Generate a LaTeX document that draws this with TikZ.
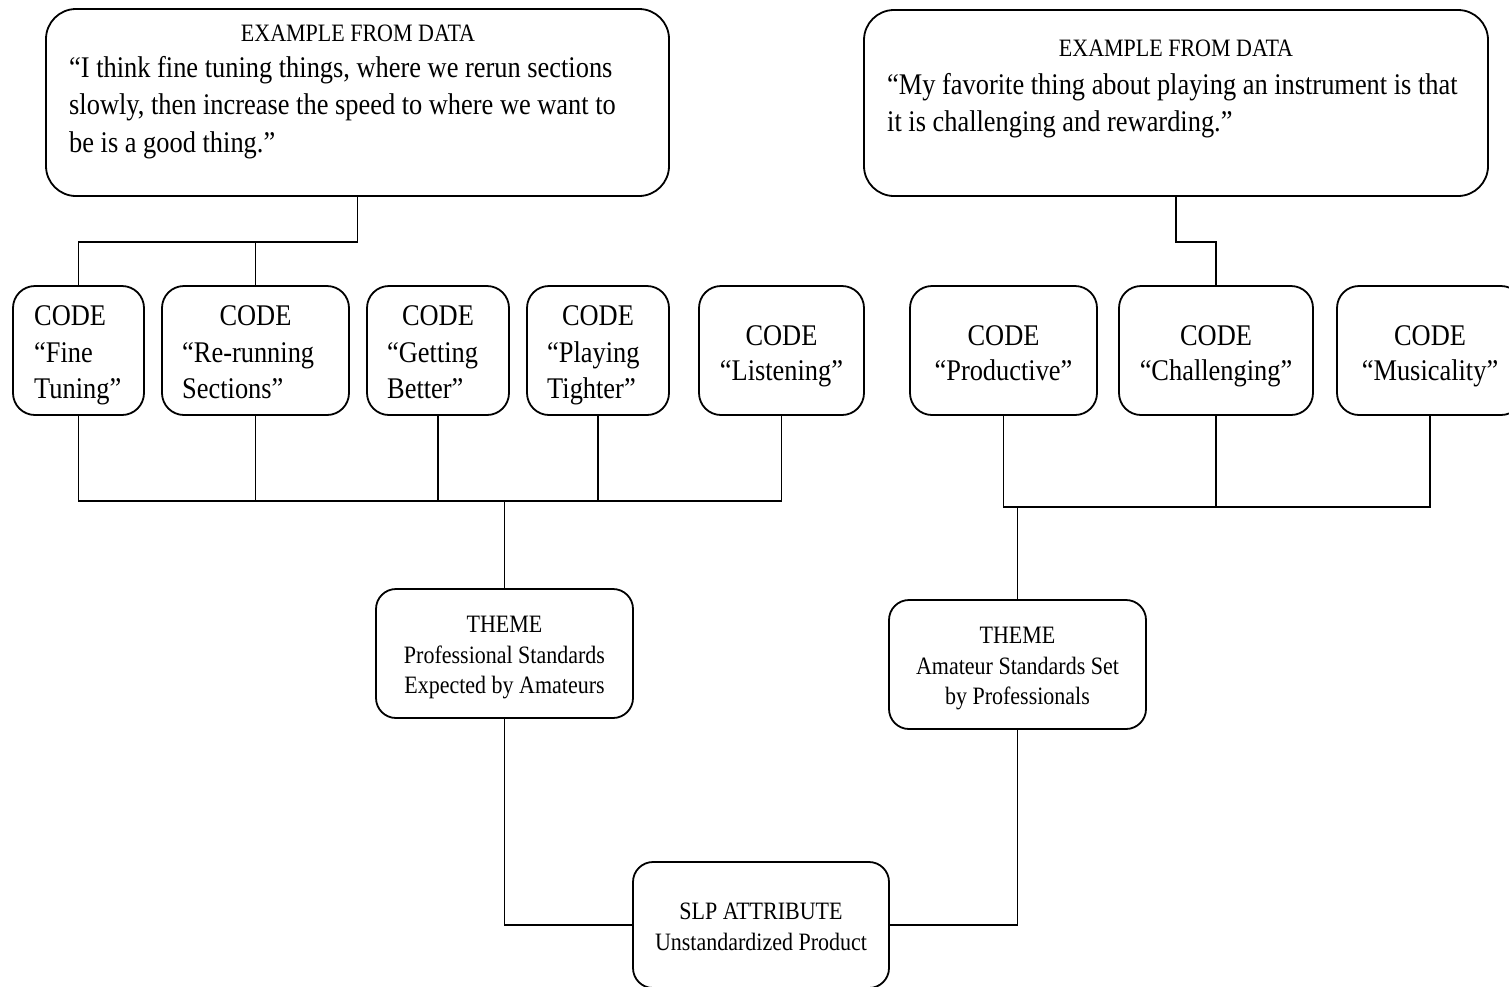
\documentclass[tikz,border=0pt]{standalone}
\usepackage{fontspec}
\setmainfont{Liberation Serif}[FakeStretch=0.88]
\begin{document}
\begin{tikzpicture}[x=1pt,y=-1pt,
  box/.style={draw, line width=1.8pt, inner sep=0pt, rounded corners=#1},
  box/.default=22pt,
  link/.style={line width=1.4pt},
  big/.style={font=\fontsize{30}{37}\selectfont, inner sep=0pt},
  small/.style={font=\fontsize{25}{31}\selectfont, inner sep=0pt}]
\useasboundingbox (0,0) rectangle (1509,986);
\fill[white] (0,0) rectangle (1509,986);
% boxes
\node[box=30pt, minimum width=623pt, minimum height=187pt] (tl) at (357.5,102.5) {};
\node[box=30pt, minimum width=624pt, minimum height=186pt] (tr) at (1176,103) {};
\node[box, minimum width=131pt, minimum height=129pt] (c1) at (78.5,350.5) {};
\node[box, minimum width=187pt, minimum height=129pt] (c2) at (255.5,350.5) {};
\node[box, minimum width=142pt, minimum height=129pt] (c3) at (438,350.5) {};
\node[box, minimum width=142pt, minimum height=129pt] (c4) at (598,350.5) {};
\node[box, minimum width=165pt, minimum height=129pt] (c5) at (781.5,350.5) {};
\node[box, minimum width=187pt, minimum height=129pt] (c6) at (1003.5,350.5) {};
\node[box, minimum width=194pt, minimum height=129pt] (c7) at (1216,350.5) {};
\node[box, minimum width=186pt, minimum height=129pt] (c8) at (1430,350.5) {};
\node[box=20pt, minimum width=257pt, minimum height=129pt] (th1) at (504.5,653.5) {};
\node[box=20pt, minimum width=257pt, minimum height=129pt] (th2) at (1017.5,664.5) {};
\node[box=20pt, minimum width=256pt, minimum height=126pt] (slp) at (761,925) {};
% texts
\node[small, anchor=base] (tlh) at (358,41) {EXAMPLE FROM DATA};
\node[big, anchor=base west] (tl1) at (69,77) {“I think fine tuning things, where we rerun sections};
\node[big, anchor=base west] (tl2) at (69,114.5) {slowly, then increase the speed to where we want to};
\node[big, anchor=base west] (tl3) at (69,152) {be is a good thing.”};
\node[small, anchor=base] (trh) at (1176,56) {EXAMPLE FROM DATA};
\node[big, anchor=base west] (tr1) at (887,94) {“My favorite thing about playing an instrument is that};
\node[big, anchor=base west] (tr2) at (887,131) {it is challenging and rewarding.”};
\node[big, anchor=base west] (c1a) at (34,325) {CODE};
\node[big, anchor=base west] (c1b) at (34,362) {“Fine};
\node[big, anchor=base west] (c1c) at (34,398) {Tuning”};
\node[big, anchor=base] (c2a) at (255.5,325) {CODE};
\node[big, anchor=base west] (c2b) at (182,362) {“Re-running};
\node[big, anchor=base west] (c2c) at (182,398) {Sections”};
\node[big, anchor=base] (c3a) at (438,325) {CODE};
\node[big, anchor=base west] (c3b) at (387,362) {“Getting};
\node[big, anchor=base west] (c3c) at (387,398) {Better”};
\node[big, anchor=base] (c4a) at (598,325) {CODE};
\node[big, anchor=base west] (c4b) at (547,362) {“Playing};
\node[big, anchor=base west] (c4c) at (547,398) {Tighter”};
\node[big, anchor=base] (c5a) at (781.5,345) {CODE};
\node[big, anchor=base] (c5b) at (781.5,380) {“Listening”};
\node[big, anchor=base] (c6a) at (1003.5,345) {CODE};
\node[big, anchor=base] (c6b) at (1003.5,380) {“Productive”};
\node[big, anchor=base] (c7a) at (1216,345) {CODE};
\node[big, anchor=base] (c7b) at (1216,380) {“Challenging”};
\node[big, anchor=base] (c8a) at (1430,345) {CODE};
\node[big, anchor=base] (c8b) at (1430,380) {“Musicality”};
\node[small, anchor=base] (th1a) at (504.5,632) {THEME};
\node[small, anchor=base] (th1b) at (504.5,663) {Professional Standards};
\node[small, anchor=base] (th1c) at (504.5,693) {Expected by Amateurs};
\node[small, anchor=base] (th2a) at (1017.5,643) {THEME};
\node[small, anchor=base] (th2b) at (1017.5,674) {Amateur Standards Set};
\node[small, anchor=base] (th2c) at (1017.5,704) {by Professionals};
\node[small, anchor=base] (slpa) at (761,919) {SLP ATTRIBUTE};
\node[small, anchor=base] (slpb) at (761,950) {Unstandardized Product};
% junctions
\coordinate (jtl) at (357.5,242);
\coordinate (jtr) at (1176,242);
\coordinate (jbl) at (504.5,501);
\coordinate (jbr) at (1017.5,507);
% connectors
\draw[link] (tl.south) -- (jtl) -| (c1.north);
\draw[link] (jtl -| c2.north) -- (c2.north);
\draw[link] (tr.south) -- (jtr) -| (c7.north);
\draw[link] (c1.south) |- (c5.south |- jbl) -- (c5.south);
\draw[link] (c2.south) -- (c2.south |- jbl);
\draw[link] (c3.south) -- (c3.south |- jbl);
\draw[link] (c4.south) -- (c4.south |- jbl);
\draw[link] (jbl) -- (th1.north);
\draw[link] (c6.south) |- (c8.south |- jbr) -- (c8.south);
\draw[link] (c7.south) -- (c7.south |- jbr);
\draw[link] (jbr) -- (th2.north);
\draw[link] (th1.south) |- (slp.west);
\draw[link] (th2.south) |- (slp.east);
\end{tikzpicture}
\end{document}
